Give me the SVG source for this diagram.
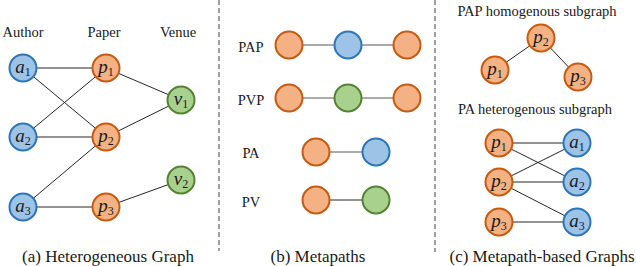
<svg xmlns="http://www.w3.org/2000/svg" width="636" height="266" viewBox="0 0 636 266">
<style>
.o{fill:#F4B183;stroke:#C55A11;stroke-width:2}
.b{fill:#9DC3E6;stroke:#2E75B6;stroke-width:2}
.g{fill:#A9D18E;stroke:#548235;stroke-width:2}
.e{stroke:#262626;stroke-width:1;fill:none}
.m{stroke:#595959;stroke-width:1.2;fill:none}
.d{stroke:#7F7F7F;stroke-width:1.5;stroke-dasharray:5,3;fill:none}
text{fill:#1a1a1a}
.lb{font-size:14.5px;text-anchor:middle}
.cap{font-size:17px;text-anchor:middle}
.n{font-size:19px;font-style:italic;text-anchor:middle}
.n tspan{font-style:normal;font-size:12px}
</style>
<g id="dividers">
<line class="d" x1="219" y1="0" x2="219" y2="251"/>
<line class="d" x1="435" y1="0" x2="435" y2="252"/>
</g>
<g id="connectors">
<line class="e" x1="23" y1="68" x2="106" y2="68"/>
<line class="e" x1="23" y1="68" x2="106" y2="137"/>
<line class="e" x1="23" y1="137" x2="106" y2="68"/>
<line class="e" x1="23" y1="137" x2="106" y2="137"/>
<line class="e" x1="23" y1="207" x2="106" y2="137"/>
<line class="e" x1="23" y1="207" x2="106" y2="207"/>
<line class="e" x1="106" y1="68" x2="181" y2="100"/>
<line class="e" x1="106" y1="137" x2="181" y2="100"/>
<line class="e" x1="106" y1="207" x2="181" y2="180"/>
<line class="m" x1="289" y1="45" x2="407" y2="45"/>
<line class="m" x1="289" y1="98" x2="407" y2="98"/>
<line class="m" x1="316" y1="152" x2="376" y2="152"/>
<line class="e" x1="316" y1="200" x2="376" y2="200"/>
<line class="e" x1="495" y1="70" x2="541" y2="38"/>
<line class="e" x1="541" y1="38" x2="578" y2="77"/>
<line class="e" x1="499" y1="143" x2="577" y2="143"/>
<line class="e" x1="499" y1="143" x2="577" y2="182"/>
<line class="e" x1="499" y1="182" x2="577" y2="143"/>
<line class="e" x1="499" y1="182" x2="577" y2="182"/>
<line class="e" x1="499" y1="182" x2="577" y2="222"/>
<line class="e" x1="499" y1="222" x2="577" y2="222"/>
</g>
<g id="all-text" font-family="'Liberation Serif', Tinos, 'Times New Roman', serif">
<g id="labels-a">
<text class="lb" x="23" y="37">Author</text>
<text class="lb" x="104" y="37">Paper</text>
<text class="lb" x="178" y="37">Venue</text>
<text class="cap" x="108" y="262">(a) Heterogeneous Graph</text>
</g>
<g id="a1"><circle class="b" cx="23" cy="68" r="13.5"/><text class="n" x="23" y="73">a<tspan dy="3">1</tspan></text></g>
<g id="a2"><circle class="b" cx="23" cy="137" r="13.5"/><text class="n" x="23" y="142">a<tspan dy="3">2</tspan></text></g>
<g id="a3"><circle class="b" cx="23" cy="207" r="13.5"/><text class="n" x="23" y="212">a<tspan dy="3">3</tspan></text></g>
<g id="p1"><circle class="o" cx="106" cy="68" r="13.5"/><text class="n" x="106" y="73">p<tspan dy="3">1</tspan></text></g>
<g id="p2"><circle class="o" cx="106" cy="137" r="13.5"/><text class="n" x="106" y="142">p<tspan dy="3">2</tspan></text></g>
<g id="p3"><circle class="o" cx="106" cy="207" r="13.5"/><text class="n" x="106" y="212">p<tspan dy="3">3</tspan></text></g>
<g id="v1"><circle class="g" cx="181" cy="100" r="13.5"/><text class="n" x="181" y="105">v<tspan dy="3">1</tspan></text></g>
<g id="v2"><circle class="g" cx="181" cy="180" r="13.5"/><text class="n" x="181" y="185">v<tspan dy="3">2</tspan></text></g>
<g id="labels-b">
<text class="lb" x="251" y="52">PAP</text>
<text class="lb" x="251" y="105">PVP</text>
<text class="lb" x="251" y="158">PA</text>
<text class="lb" x="251" y="207">PV</text>
<text class="cap" x="318" y="262">(b) Metapaths</text>
</g>
<g id="pap-1"><circle class="o" cx="289" cy="45" r="13.5"/></g>
<g id="pap-2"><circle class="b" cx="348" cy="45" r="13.5"/></g>
<g id="pap-3"><circle class="o" cx="407" cy="45" r="13.5"/></g>
<g id="pvp-1"><circle class="o" cx="289" cy="98" r="13.5"/></g>
<g id="pvp-2"><circle class="g" cx="348" cy="98" r="13.5"/></g>
<g id="pvp-3"><circle class="o" cx="407" cy="98" r="13.5"/></g>
<g id="pa-1"><circle class="o" cx="316" cy="152" r="13.5"/></g>
<g id="pa-2"><circle class="b" cx="376" cy="152" r="13.5"/></g>
<g id="pv-1"><circle class="o" cx="316" cy="200" r="13.5"/></g>
<g id="pv-2"><circle class="g" cx="376" cy="200" r="13.5"/></g>
<g id="labels-c">
<text class="lb" x="537" y="16">PAP homogenous subgraph</text>
<text class="lb" x="535" y="114">PA heterogenous subgraph</text>
<text class="cap" x="542" y="262">(c) Metapath-based Graphs</text>
</g>
<g id="c-hom-p2"><circle class="o" cx="541" cy="38" r="13.5"/><text class="n" x="541" y="43">p<tspan dy="3">2</tspan></text></g>
<g id="c-hom-p1"><circle class="o" cx="495" cy="70" r="13.5"/><text class="n" x="495" y="75">p<tspan dy="3">1</tspan></text></g>
<g id="c-hom-p3"><circle class="o" cx="578" cy="77" r="13.5"/><text class="n" x="578" y="82">p<tspan dy="3">3</tspan></text></g>
<g id="c-het-p1"><circle class="o" cx="499" cy="143" r="13.5"/><text class="n" x="499" y="148">p<tspan dy="3">1</tspan></text></g>
<g id="c-het-p2"><circle class="o" cx="499" cy="182" r="13.5"/><text class="n" x="499" y="187">p<tspan dy="3">2</tspan></text></g>
<g id="c-het-p3"><circle class="o" cx="499" cy="222" r="13.5"/><text class="n" x="499" y="227">p<tspan dy="3">3</tspan></text></g>
<g id="c-het-a1"><circle class="b" cx="577" cy="143" r="13.5"/><text class="n" x="577" y="148">a<tspan dy="3">1</tspan></text></g>
<g id="c-het-a2"><circle class="b" cx="577" cy="182" r="13.5"/><text class="n" x="577" y="187">a<tspan dy="3">2</tspan></text></g>
<g id="c-het-a3"><circle class="b" cx="577" cy="222" r="13.5"/><text class="n" x="577" y="227">a<tspan dy="3">3</tspan></text></g>
</g>
</svg>
